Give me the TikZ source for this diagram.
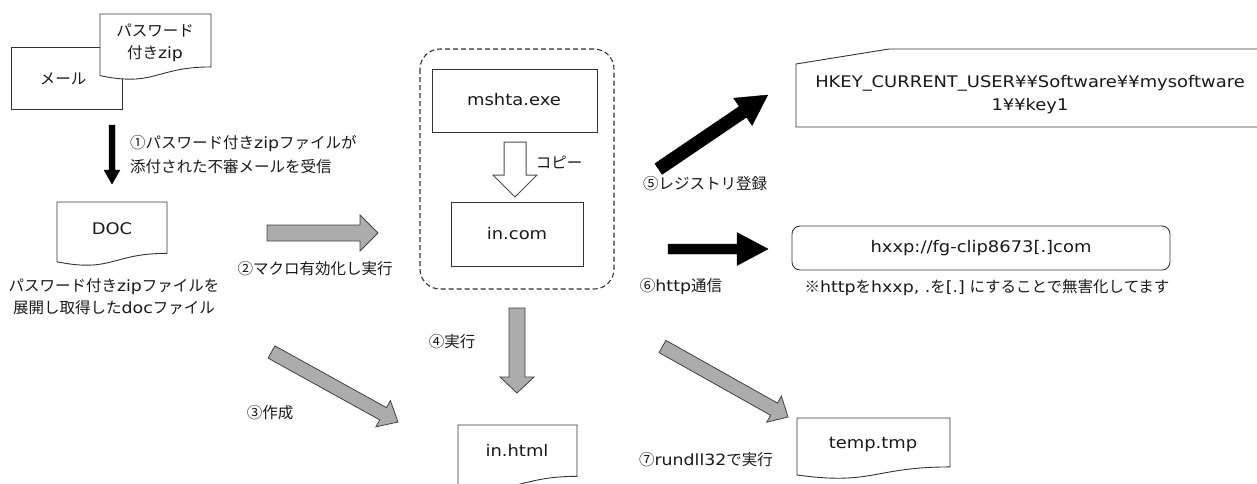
\documentclass[tikz,border=0pt]{standalone}
\usepackage{fontspec}
\setmainfont{Noto Sans CJK JP}
\newfontfamily\lat[FakeStretch=1.12]{DejaVu Sans}
\usetikzlibrary{calc}

\tikzset{
  box/.style={draw=black!80, line width=0.9pt, fill=white},
  txt/.style={font=\fontsize{15.5}{22}\selectfont, text=black!90, inner sep=0pt},
  lt/.style={font=\lat\fontsize{16}{23}\selectfont, text=black!90, inner sep=0pt},
  garrow/.style={fill=gray!65, draw=black!75, line width=0.8pt, line join=miter},
  barrow/.style={fill=black, draw=black, line width=0.4pt},
  warrow/.style={fill=white, draw=black!70, line width=1pt},
  dashbox/.style={draw=black!80, line width=1.1pt, dash pattern=on 5pt off 3pt, rounded corners=20pt},
}

% block arrow: #1 start, #2 end, #3 shaft half width, #4 head half width, #5 head length, #6 style
\newcommand{\blockarr}[6]{%
  \coordinate (#1-#2-h) at ($(#2)!#5!(#1)$);
  \draw[#6] ($(#1)!#3!90:(#2)$) -- ($(#1-#2-h)!#3!-90:(#1)$) -- ($(#1-#2-h)!#4!-90:(#1)$)
     -- (#2) -- ($(#1-#2-h)!#4!90:(#1)$) -- ($(#1-#2-h)!#3!90:(#1)$) -- ($(#1)!#3!-90:(#2)$) -- cycle;}

% document shape: x y w h
\newcommand{\docshape}[4]{%
  \draw[box] (#1,#2) -- ({#1+#3},#2) -- ({#1+#3},{#2+0.802*#4})
    .. controls ({#1+0.5*#3},{#2+0.802*#4}) and ({#1+0.5*#3},{#2+1.1075*#4}) .. (#1,{#2+0.934*#4}) -- cycle;}

\begin{document}
\begin{tikzpicture}[x=1pt,y=-1pt]
\useasboundingbox (0,0) rectangle (1257,483);
\clip (0,0) rectangle (1257,483);

% shapes
\draw[box] (11,47) rectangle (122,109);
\docshape{100}{14}{111}{66}
\docshape{57}{202}{110}{64}
\draw[dashbox] (420,49) rectangle (614,289);
\draw[box] (432,69) rectangle (597,132);
\draw[box] (451,202) rectangle (583,266);
\docshape{458}{425}{119}{64}
\draw[box] (796,64) -- (889,49) -- (1290,49) -- (1290,127) -- (796,127) -- cycle;
\draw[box, rounded corners=8pt] (792,226) rectangle (1170,270);
\docshape{797}{418}{153}{61}

% arrow end points
\coordinate (a1s) at (112,125);   \coordinate (a1e) at (112,184);
\coordinate (a2s) at (267,233);   \coordinate (a2e) at (378,233);
\coordinate (a3s) at (271.5,352); \coordinate (a3e) at (398,422);
\coordinate (a4s) at (517,308);   \coordinate (a4e) at (517,393);
\coordinate (a5s) at (658.5,169); \coordinate (a5e) at (767.7,95);
\coordinate (a6s) at (668,249);   \coordinate (a6e) at (768,249);
\coordinate (a7s) at (662.5,346.5); \coordinate (a7e) at (788,417);
\coordinate (acs) at (515,142);   \coordinate (ace) at (515,197);

\blockarr{a1s}{a1e}{3pt}{8pt}{14pt}{barrow}
\blockarr{a2s}{a2e}{8pt}{18pt}{18pt}{garrow}
\blockarr{a3s}{a3e}{7pt}{15pt}{17pt}{garrow}
\blockarr{a4s}{a4e}{8pt}{17pt}{16pt}{garrow}
\blockarr{a5s}{a5e}{6.5pt}{16.5pt}{30pt}{barrow}
\blockarr{a6s}{a6e}{5pt}{16.5pt}{31pt}{barrow}
\blockarr{a7s}{a7e}{7pt}{15pt}{16pt}{garrow}
\blockarr{acs}{ace}{11pt}{22pt}{22pt}{warrow}

% texts
\node[txt] (mail) at (63,79) {メール};
\node[txt, align=center] (zip) at (155,43) {パスワード\\付き{\lat zip}};
\node[txt, anchor=west, align=left, font=\fontsize{15.5}{24}\selectfont] (l1) at (130,155) {①パスワード付き{\lat zip}ファイルが\\添付された不審メールを受信};
\node[lt] (doc) at (112,229) {DOC};
\node[txt, align=center] (docl) at (114,297) {パスワード付き{\lat zip}ファイルを\\展開し取得した{\lat doc}ファイル};
\node[txt] (l2) at (315,269) {②マクロ有効化し実行};
\node[txt] (l3) at (270,413) {③作成};
\node[lt] (mshta) at (514,100) {mshta.exe};
\node[lt] (incom) at (517,234) {in.com};
\node[txt] (copy) at (559,162) {コピー};
\node[txt] (l4) at (452,342) {④実行};
\node[lt] (inhtml) at (517,450) {in.html};
\node[lt, align=center] (hkey) at (1030,95) {HKEY\_CURRENT\_USER¥¥Software¥¥mysoftware\\1¥¥key1};
\node[txt] (l5) at (705,184) {⑤レジストリ登録};
\node[lt] (url) at (981,248) {hxxp://fg-clip8673[.]com};
\node[txt] (note) at (987,288) {※{\lat http}を{\lat hxxp, .}を{\lat [.]} にすることで無害化してます};
\node[txt] (l6) at (681,287) {⑥{\lat http}通信};
\node[txt] (l7) at (706,460) {⑦{\lat rundll32}で実行};
\node[lt] (temp) at (873,445) {temp.tmp};
\end{tikzpicture}
\end{document}
